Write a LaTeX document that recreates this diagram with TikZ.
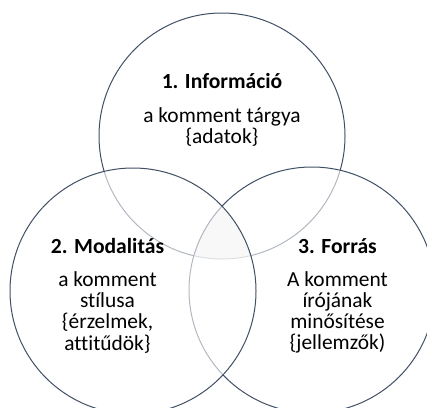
\documentclass[tikz,border=0pt]{standalone}
\usepackage{fontspec}
\setmainfont{Carlito}[Ligatures=NoCommon]
\definecolor{ringline}{RGB}{66,80,102}
\tikzset{
	ring/.style={circle, draw=ringline, line width=1pt, minimum size=246pt, inner sep=0pt, fill=white, fill opacity=0.6},
	heading/.style={font=\fontsize{21.6}{22}\selectfont\bfseries, anchor=base, inner sep=0pt},
	body/.style={font=\fontsize{21.4}{20.8}\selectfont, anchor=base, inner sep=0pt}
}
\newcommand{\lines}[1]{\begin{tabular}[t]{@{}c@{}}#1\end{tabular}}
\begin{document}
\begin{tikzpicture}[x=1pt, y=-1pt]
		\useasboundingbox (0,0) rectangle (427,407);
		%the three rings, top one first
		\node[ring] (info) at (222,136){};
		\node[ring] (source) at (312,290){};
		\node[ring] (modal) at (133,291){};
		
		%common part of all three
		\begin{scope}
			\clip (info.center) circle[radius=123pt];
			\clip (source.center) circle[radius=123pt];
			\fill[black, opacity=0.025] (modal.center) circle[radius=123pt];
		\end{scope}
		
		%texts
		\node[heading] (infohead) at (222,88){1. Információ};
		\node[body] (infotext) at (222,122){\lines{a komment tárgya\\\{adatok\}}};
		
		\node[heading] (modalhead) at (107.5,253){2. Modalitás};
		\node[body] (modaltext) at (107.5,286){\lines{a komment\\stílusa\\\{érzelmek,\\attitűdök\}}};
		
		\node[heading] (sourcehead) at (337.5,253){3. Forrás};
		\node[body] (sourcetext) at (337.5,286){\lines{A komment\\írójának\\minősítése\\\{jellemzők)}};
\end{tikzpicture}
\end{document}
